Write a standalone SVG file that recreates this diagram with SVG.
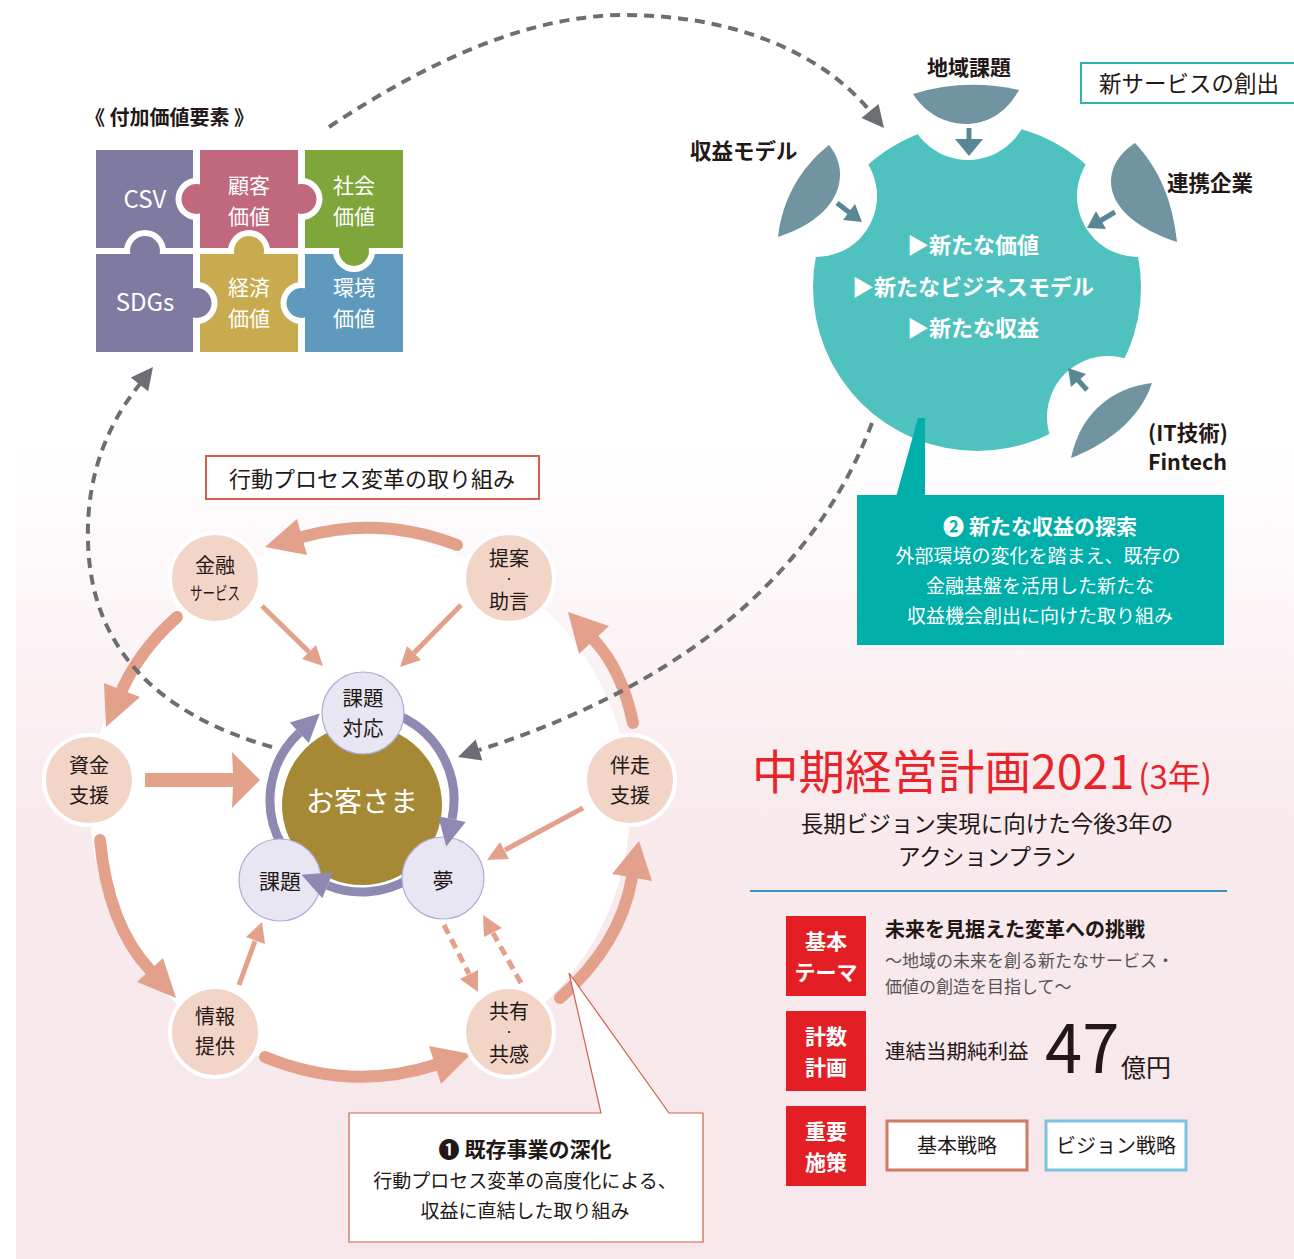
<svg xmlns="http://www.w3.org/2000/svg" width="1294" height="1259" viewBox="0 0 1294 1259">
  <style>
    .t { font-family: 'Noto Sans CJK JP', 'Noto Sans', sans-serif; }
    .c { text-anchor: middle; }
    .b { font-weight: 700; }
    .dk { fill: #231815; }
    .w { fill: #ffffff; }
    .gy { fill: #555555; }
    .node { fill: #f3d5c8; stroke: #ffffff; stroke-width: 4; }
    .sub { fill: #e8e6f2; stroke: #b0acd6; stroke-width: 1.2; }
    .big { fill: none; stroke: #e3a18c; stroke-width: 12; stroke-linecap: round; }
    .thin { fill: none; stroke: #e3a18c; stroke-width: 5; }
    .thind { fill: none; stroke: #e3a18c; stroke-width: 5; stroke-dasharray: 10 6; }
    .head { fill: #e3a18c; }
    .dash { fill: none; stroke: #6b6e72; stroke-width: 4; stroke-dasharray: 10 7; }
    .dhead { fill: #6b6e72; }
    .loopw { fill: none; stroke: #ffffff; stroke-width: 16; }
    .loop { fill: none; stroke: #8d89b0; stroke-width: 9; }
    .lhead { fill: #8d89b0; }
    .petal { fill: #7095a0; }
    .parr { stroke: #5a8796; stroke-width: 5; fill: none; }
    .pahead { fill: #5a8796; }
    .ring { fill: #ffffff; }
    .redbox { fill: #e31e24; }
  </style>
  <defs>
    <linearGradient id="bg" x1="0" y1="0" x2="0" y2="1">
      <stop offset="0" stop-color="#ffffff"/>
      <stop offset="0.45" stop-color="#f8eaed"/>
      <stop offset="1" stop-color="#f7e7eb"/>
    </linearGradient>
    <clipPath id="clip-csv"><rect x="96" y="150" width="97" height="98"/></clipPath>
    <clipPath id="clip-pink"><rect x="200" y="150" width="98" height="98"/></clipPath>
    <clipPath id="clip-green"><rect x="305" y="150" width="98" height="98"/></clipPath>
    <clipPath id="clip-gold"><rect x="200" y="254" width="98" height="98"/></clipPath>
    <clipPath id="clip-blue"><rect x="305" y="254" width="98" height="98"/></clipPath>
    <mask id="bites">
      <rect x="700" y="0" width="594" height="500" fill="#ffffff"/>
      <circle cx="968" cy="98" r="62" fill="#000000"/>
      <circle cx="816" cy="196" r="61" fill="#000000"/>
      <circle cx="1138" cy="196" r="61" fill="#000000"/>
      <circle cx="1108" cy="417" r="61" fill="#000000"/>
    </mask>
  </defs>

  <!-- background panel and the white disc behind the cycle -->
  <rect x="16" y="440" width="1278" height="819" fill="url(#bg)"/>
  <circle cx="360" cy="806" r="270" fill="#ffffff"/>

  <!-- value-element puzzle -->
  <g id="puzzle">
    <text class="t b dk" x="85" y="125" font-size="20">《 付加価値要素 》</text>
    <g id="piece-csv">
      <rect x="96" y="150" width="97" height="98" fill="#7f7aa0"/>
    </g>
    <g id="piece-kokyaku">
      <rect x="200" y="150" width="98" height="98" fill="#c0687e"/>
    </g>
    <g id="piece-shakai">
      <rect x="305" y="150" width="98" height="98" fill="#7fa63a"/>
    </g>
    <g id="piece-sdgs">
      <rect x="96" y="254" width="97" height="98" fill="#7f7aa0"/>
    </g>
    <g id="piece-keizai">
      <rect x="200" y="254" width="98" height="98" fill="#c9ab4f"/>
    </g>
    <g id="piece-kankyo">
      <rect x="305" y="254" width="98" height="98" fill="#5f9abe"/>
    </g>
    <!-- white outlines of the tabs -->
    <circle class="ring" cx="196.5" cy="199" r="21" clip-path="url(#clip-csv)"/>
    <circle class="ring" cx="301.5" cy="199" r="21" clip-path="url(#clip-green)"/>
    <circle class="ring" cx="249" cy="251" r="21" clip-path="url(#clip-pink)"/>
    <circle class="ring" cx="145" cy="251" r="21" clip-path="url(#clip-csv)"/>
    <circle class="ring" cx="196.5" cy="303" r="21" clip-path="url(#clip-gold)"/>
    <circle class="ring" cx="354" cy="251" r="21" clip-path="url(#clip-blue)"/>
    <circle class="ring" cx="301.5" cy="303" r="21" clip-path="url(#clip-gold)"/>
    <!-- tabs -->
    <circle cx="196.5" cy="199" r="15" fill="#c0687e"/>
    <circle cx="301.5" cy="199" r="15" fill="#c0687e"/>
    <circle cx="249" cy="251" r="15" fill="#c9ab4f"/>
    <circle cx="145" cy="251" r="15" fill="#7f7aa0"/>
    <circle cx="196.5" cy="303" r="15" fill="#7f7aa0"/>
    <circle cx="354" cy="251" r="15" fill="#7fa63a"/>
    <circle cx="301.5" cy="303" r="15" fill="#5f9abe"/>
    <!-- labels -->
    <text class="t c w" x="145" y="208" font-size="24">CSV</text>
    <text class="t c w" font-size="21"><tspan x="249" y="193">顧客</tspan><tspan x="249" dy="30.5">価値</tspan></text>
    <text class="t c w" font-size="21"><tspan x="354" y="193">社会</tspan><tspan x="354" dy="30.5">価値</tspan></text>
    <text class="t c w" x="145" y="311" font-size="24">SDGs</text>
    <text class="t c w" font-size="21"><tspan x="249" y="295">経済</tspan><tspan x="249" dy="30.5">価値</tspan></text>
    <text class="t c w" font-size="21"><tspan x="354" y="295">環境</tspan><tspan x="354" dy="30.5">価値</tspan></text>
  </g>

  <!-- new-service disc with its four inputs -->
  <g id="new-service">
    <circle cx="977" cy="287" r="164" fill="#4fc2c0" mask="url(#bites)"/>
    <polygon points="918,418 925,418 925,497 896,497" fill="#00aeaa"/>
    <text class="t c b w" font-size="22"><tspan x="973" y="253">▶新たな価値</tspan><tspan x="973" dy="42">▶新たなビジネスモデル</tspan><tspan x="973" dy="41">▶新たな収益</tspan></text>
  </g>
  <g id="input-chiiki">
    <path class="petal" d="M913,94 Q965,78 1019,90 C1005,115 985,124 966,124 C945,124 925,113 913,94 Z"/>
    <line class="parr" x1="969" y1="128" x2="969" y2="141"/>
    <polygon class="pahead" points="955,139 983,139 969,156"/>
    <text class="t c b dk" x="969" y="75" font-size="21">地域課題</text>
  </g>
  <g id="input-shueki">
    <path class="petal" d="M829,145 C850,170 845,215 778,237 C782,200 800,168 829,145 Z"/>
    <line class="parr" x1="837" y1="203" x2="850" y2="213"/>
    <polygon class="pahead" points="843,220 855,204 862,222"/>
    <text class="t b dk" x="690" y="159" font-size="21.5">収益モデル</text>
  </g>
  <g id="input-renkei">
    <path class="petal" d="M1135,143 C1100,165 1095,215 1177,242 C1172,200 1160,170 1135,143 Z"/>
    <line class="parr" x1="1115" y1="212" x2="1100" y2="221"/>
    <polygon class="pahead" points="1096,211 1106,229 1087,228"/>
    <text class="t b dk" x="1167" y="191" font-size="21.5">連携企業</text>
  </g>
  <g id="input-fintech">
    <path class="petal" d="M1152,383 C1110,388 1080,415 1071,458 C1105,445 1140,420 1152,383 Z"/>
    <line class="parr" x1="1087" y1="390" x2="1078" y2="380"/>
    <polygon class="pahead" points="1086,374 1071,387 1068,368"/>
    <text class="t b dk" font-size="21.5"><tspan x="1148" y="441">(IT技術)</tspan><tspan x="1148" dy="29">Fintech</tspan></text>
  </g>
  <g id="label-new-service">
    <rect x="1081" y="63" width="220" height="40" fill="#ffffff" stroke="#2ab5b0" stroke-width="2"/>
    <text class="t dk" x="1099" y="92" font-size="22.5">新サービスの創出</text>
  </g>
  <g id="callout-2">
    <rect x="857" y="495" width="367" height="150" fill="#00aeaa"/>
    <text class="t c w" font-size="19"><tspan class="b" x="1040" y="534" font-size="21">❷ 新たな収益の探索</tspan><tspan x="1038" dy="29">外部環境の変化を踏まえ、既存の</tspan><tspan x="1040" dy="30">金融基盤を活用した新たな</tspan><tspan x="1040" dy="30">収益機会創出に向けた取り組み</tspan></text>
  </g>

  <!-- connectors -->
  <g id="connectors">
    <!-- outer cycle -->
    <path class="big" d="M457,545 Q380,515 302,537"/>
    <polygon class="head" points="307,555 297,519 265,547"/>
    <path class="big" d="M177,617 Q140,650 122,690"/>
    <polygon class="head" points="140,697 104,683 106,727"/>
    <path class="big" d="M100,840 Q108,925 150,970"/>
    <polygon class="head" points="163,958 137,982 176,998"/>
    <path class="big" d="M265,1057 Q350,1092 435,1065"/>
    <polygon class="head" points="441,1084 429,1046 471,1054"/>
    <path class="big" d="M560,998 Q620,945 632,878"/>
    <polygon class="head" points="652,881 612,874 639,841"/>
    <path class="big" d="M633,723 Q622,670 594,640"/>
    <polygon class="head" points="609,626 579,654 568,612"/>
    <!-- into the customer -->
    <polygon class="head" points="145,773 233,773 232,752 260,780 232,808 233,787 145,787"/>
    <line class="thin" x1="262" y1="606" x2="309" y2="652"/>
    <polygon class="head" points="302,659 316,645 323,666"/>
    <line class="thin" x1="461" y1="605" x2="414" y2="653"/>
    <polygon class="head" points="407,646 421,660 400,667"/>
    <line class="thin" x1="583" y1="808" x2="505" y2="850"/>
    <polygon class="head" points="500,842 509,859 487,860"/>
    <line class="thin" x1="239" y1="985" x2="255" y2="941"/>
    <polygon class="head" points="265,944 246,937 262,922"/>
    <line class="thind" x1="444" y1="925" x2="469" y2="974"/>
    <polygon class="head" points="460,979 478,970 478,992"/>
    <line class="thind" x1="521" y1="983" x2="493" y2="933"/>
    <polygon class="head" points="502,928 484,937 483,915"/>
    <!-- inner loop around the customer -->
    <path class="loopw" d="M282.3,846 A92,92 0 0 1 299.3,732.7"/>
    <path class="loopw" d="M400.9,716.6 A92,92 0 0 1 452,819.1"/>
    <path class="loopw" d="M408,879.7 A92,92 0 0 1 327.5,885.3"/>
  </g>

  <!-- cycle nodes -->
  <g id="customer">
    <circle cx="362" cy="805" r="80" fill="#a58935"/>
    <text class="t c w" x="362" y="812" font-size="28">お客さま</text>
  </g>
  <g id="loop-arrows">
    <path class="loop" d="M282.3,846 A92,92 0 0 1 299.3,732.7"/>
    <path class="loop" d="M400.9,716.6 A92,92 0 0 1 452,819.1"/>
    <path class="loop" d="M408,879.7 A92,92 0 0 1 327.5,885.3"/>
  </g>
  <g id="kadai-taio">
    <circle class="sub" cx="363" cy="713" r="41"/>
    <text class="t c dk" font-size="20.5"><tspan x="363" y="706">課題</tspan><tspan x="363" dy="29.5">対応</tspan></text>
  </g>
  <g id="kadai">
    <circle class="sub" cx="280" cy="880" r="41"/>
    <text class="t c dk" x="280" y="889" font-size="21">課題</text>
  </g>
  <g id="yume">
    <circle class="sub" cx="443" cy="878" r="41"/>
    <text class="t c dk" x="443" y="888" font-size="21">夢</text>
  </g>
  <g id="loop-heads">
    <polygon class="lhead" points="308.8,742.9 289.8,722.5 319.8,713.6"/>
    <polygon class="lhead" points="465.7,822 438.3,816.2 446.2,846.5"/>
    <polygon class="lhead" points="332.8,872.3 322.3,898.3 301.5,874.8"/>
  </g>

  <g id="kinyu">
    <circle class="node" cx="215" cy="578" r="45"/>
    <text class="t c dk" font-size="20"><tspan x="215" y="573">金融</tspan><tspan x="215" dy="27" font-size="18" textLength="50" lengthAdjust="spacingAndGlyphs">サービス</tspan></text>
  </g>
  <g id="teian">
    <circle class="node" cx="509" cy="578" r="45"/>
    <text class="t c dk" font-size="20"><tspan x="509" y="566">提案</tspan><tspan class="b" x="509" dy="16" font-size="8">・</tspan><tspan x="509" dy="27">助言</tspan></text>
  </g>
  <g id="shikin">
    <circle class="node" cx="89" cy="780" r="45"/>
    <text class="t c dk" font-size="20"><tspan x="89" y="773">資金</tspan><tspan x="89" dy="29.5">支援</tspan></text>
  </g>
  <g id="bansou">
    <circle class="node" cx="630" cy="780" r="45"/>
    <text class="t c dk" font-size="20"><tspan x="630" y="773">伴走</tspan><tspan x="630" dy="29.5">支援</tspan></text>
  </g>
  <g id="joho">
    <circle class="node" cx="215" cy="1032" r="45"/>
    <text class="t c dk" font-size="20"><tspan x="215" y="1024">情報</tspan><tspan x="215" dy="29.5">提供</tspan></text>
  </g>
  <g id="kyoyu">
    <circle class="node" cx="509" cy="1032" r="45"/>
    <text class="t c dk" font-size="20"><tspan x="509" y="1019">共有</tspan><tspan class="b" x="509" dy="16" font-size="8">・</tspan><tspan x="509" dy="27">共感</tspan></text>
  </g>

  <g id="label-process">
    <rect x="206" y="456" width="333" height="43" fill="#ffffff" stroke="#d0604a" stroke-width="2"/>
    <text class="t c dk" x="372" y="487" font-size="22">行動プロセス変革の取り組み</text>
  </g>

  <g id="callout-1">
    <path d="M349,1113 L601,1113 L569,973 L669,1113 L703,1113 L703,1242 L349,1242 Z" fill="#ffffff" stroke="#d0604a" stroke-width="1.2"/>
    <text class="t c dk" font-size="19"><tspan class="b" x="525" y="1157" font-size="21">❶ 既存事業の深化</tspan><tspan x="525" dy="31">行動プロセス変革の高度化による、</tspan><tspan x="525" dy="30">収益に直結した取り組み</tspan></text>
  </g>

  <!-- dashed links between the three areas -->
  <g id="links">
    <path class="dash" d="M329,127 C430,60 530,15 625,15 S815,45 870,111"/>
    <polygon class="dhead" points="861.5,118 878.5,104 884,128"/>
    <path class="dash" d="M272,747 C160,715 90,650 88,540 C86,470 112,418 140,384"/>
    <polygon class="dhead" points="148.2,391.2 130.8,377.6 153,367"/>
    <path class="dash" d="M872,423 C820,560 700,680 479,750"/>
    <polygon class="dhead" points="482.4,760.5 475.6,739.5 458,757"/>
  </g>

  <!-- medium-term plan summary -->
  <g id="plan">
    <text class="t" x="752" y="789" font-size="46.5" fill="#e8242a">中期経営計画2021<tspan font-size="33" dx="4">(3年)</tspan></text>
    <text class="t c dk" font-size="22.5"><tspan x="987" y="832">長期ビジョン実現に向けた今後3年の</tspan><tspan x="987" dy="32.5">アクションプラン</tspan></text>
    <line x1="750" y1="891" x2="1227" y2="891" stroke="#3d8fc9" stroke-width="2"/>
  </g>
  <g id="theme">
    <rect class="redbox" x="786" y="916" width="80" height="80"/>
    <text class="t c b w" font-size="21"><tspan x="826" y="949">基本</tspan><tspan x="826" dy="30.5">テーマ</tspan></text>
    <text class="t dk" font-size="17"><tspan class="b" x="885" y="937" font-size="20">未来を見据えた変革への挑戦</tspan><tspan class="gy" x="885" dy="30">〜地域の未来を創る新たなサービス・</tspan><tspan class="gy" x="885" dy="26">価値の創造を目指して〜</tspan></text>
  </g>
  <g id="target">
    <rect class="redbox" x="786" y="1011" width="80" height="80"/>
    <text class="t c b w" font-size="21"><tspan x="826" y="1044">計数</tspan><tspan x="826" dy="30.5">計画</tspan></text>
    <text class="t dk" x="885" y="1059" font-size="20.5">連結当期純利益</text>
    <text class="t dk" x="1045" y="1073" font-size="67">47<tspan x="1121" y="1077" font-size="25">億円</tspan></text>
  </g>
  <g id="measures">
    <rect class="redbox" x="786" y="1106" width="80" height="80"/>
    <text class="t c b w" font-size="21"><tspan x="826" y="1139">重要</tspan><tspan x="826" dy="30.5">施策</tspan></text>
    <rect x="887" y="1121" width="140" height="49" fill="#ffffff" stroke="#d07a62" stroke-width="3"/>
    <text class="t c dk" x="957" y="1153" font-size="20">基本戦略</text>
    <rect x="1046" y="1121" width="140" height="49" fill="#ffffff" stroke="#7cc3e0" stroke-width="3"/>
    <text class="t c dk" x="1116" y="1153" font-size="20">ビジョン戦略</text>
  </g>
</svg>
